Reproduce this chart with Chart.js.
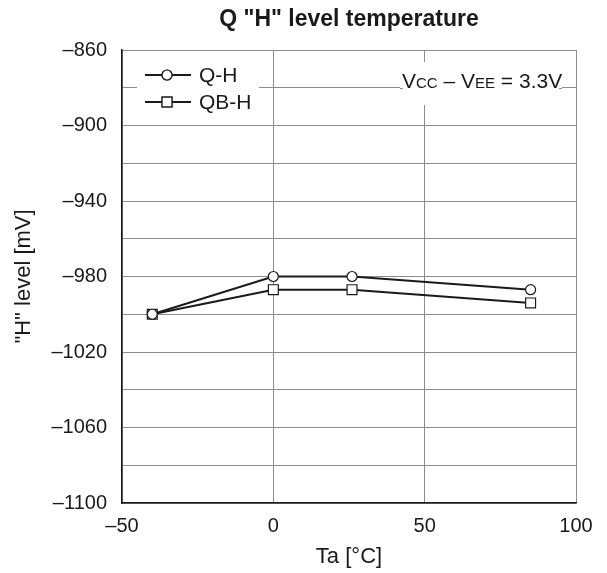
<!DOCTYPE html>
<html lang="en">
<head>
  <meta charset="UTF-8">
  <title>Q "H" level temperature</title>
  <style>
    html, body { margin: 0; padding: 0; background: #fff; }
    .chart-container { width: 607px; height: 573px; }
  </style>
</head>
<body>
  <div class="chart-container">
    <canvas id="levelChart"></canvas>
  </div>

  <script src="https://cdn.jsdelivr.net/npm/chart.js"></script>
  <script>
    const temps = [-40, 0, 26, 85];
    const qH = [-1000, -980, -980, -987];
    const qbH = [-1000, -987, -987, -994];
    const seriesNames = ['Q-H', 'QB-H'];
    const FONT = '"Liberation Sans", Arial, sans-serif';
    const INK = '#1a1a1a';

    const toPoints = (ys) => temps.map((t, i) => ({ x: t, y: ys[i] }));
    const dash = (v) => String(v).replace('-', '\u2013');

    const makeDataset = (label, ys, style, radius) => ({
      label: label,
      data: toPoints(ys),
      borderColor: INK,
      borderWidth: 2,
      pointStyle: style,
      pointRadius: radius,
      pointHoverRadius: radius,
      pointBorderWidth: 1.2,
      pointBackgroundColor: '#fff',
      pointBorderColor: INK,
      tension: 0
    });

    // title, legend box and the Vcc note, drawn on top of the plot
    const extras = {
      id: 'extras',
      afterDraw(chart) {
        const ctx = chart.ctx;
        const area = chart.chartArea;
        ctx.save();

        ctx.fillStyle = INK;
        ctx.font = 'bold 23px ' + FONT;
        ctx.textAlign = 'center';
        ctx.textBaseline = 'middle';
        ctx.fillText('Q "H" level temperature', (area.left + area.right) / 2, 20);

        // legend
        ctx.fillStyle = '#fff';
        ctx.fillRect(137, 60, 122, 56);
        const rows = [{ y: 75, style: 'circle', r: 5 }, { y: 102, style: 'rect', r: 7 }];
        rows.forEach((row, i) => {
          ctx.strokeStyle = INK;
          ctx.lineWidth = 2;
          ctx.beginPath();
          ctx.moveTo(145, row.y);
          ctx.lineTo(191, row.y);
          ctx.stroke();
          ctx.fillStyle = '#fff';
          ctx.lineWidth = 1.2;
          Chart.helpers.drawPoint(ctx, { pointStyle: row.style, radius: row.r, borderWidth: 1.2 }, 167, row.y);
          ctx.fill();
          ctx.stroke();
          ctx.fillStyle = INK;
          ctx.font = '21px ' + FONT;
          ctx.textAlign = 'left';
          ctx.fillText(seriesNames[i], 199, row.y + 1);
        });

        // Vcc - Vee note
        ctx.fillStyle = '#fff';
        ctx.fillRect(400, 62, 162, 43);
        ctx.strokeStyle = '#8c8c8c';
        ctx.lineWidth = 1;
        ctx.beginPath();
        ctx.moveTo(400, 88.5);
        ctx.lineTo(403, 88.5);
        ctx.moveTo(559, 88.5);
        ctx.lineTo(562, 88.5);
        ctx.stroke();
        const parts = [['V', 21], ['CC', 15], [' \u2013 V', 21], ['EE', 15], [' = 3.3V', 21]];
        let x = 402;
        ctx.fillStyle = INK;
        ctx.textAlign = 'left';
        ctx.textBaseline = 'alphabetic';
        parts.forEach(([txt, size]) => {
          ctx.font = size + 'px ' + FONT;
          ctx.fillText(txt, x, 88);
          x += ctx.measureText(txt).width;
        });
        ctx.restore();
      }
    };

    const ctx = document.getElementById('levelChart').getContext('2d');
    new Chart(ctx, {
      type: 'line',
      data: {
        datasets: [
          makeDataset(seriesNames[0], qH, 'circle', 5),
          makeDataset(seriesNames[1], qbH, 'rect', 7)
        ]
      },
      plugins: [extras],
      options: {
        responsive: true,
        maintainAspectRatio: false,
        animation: false,
        layout: { padding: { top: 50, right: 31, left: 0, bottom: 0 } },
        plugins: {
          legend: { display: false },
          title: { display: false },
          tooltip: { enabled: false }
        },
        scales: {
          x: {
            type: 'linear',
            min: -50,
            max: 100,
            ticks: {
              stepSize: 50,
              padding: 11,
              color: INK,
              font: { family: FONT, size: 20 },
              callback: dash
            },
            grid: { color: '#8c8c8c', lineWidth: 1, drawTicks: false },
            border: { color: INK, width: 1.5 },
            title: {
              display: true,
              text: 'Ta [\u00b0C]',
              color: INK,
              font: { family: FONT, size: 22 },
              padding: { top: 0, bottom: 3 }
            },
            afterFit: (s) => { s.height = 70; }
          },
          y: {
            min: -1100,
            max: -860,
            ticks: {
              stepSize: 20,
              padding: 15,
              color: INK,
              font: { family: FONT, size: 20 },
              callback: (v) => ((v + 860) % 40 === 0 ? dash(v) : '')
            },
            grid: { color: '#8c8c8c', lineWidth: 1, drawTicks: false },
            border: { color: INK, width: 1.5 },
            title: {
              display: true,
              text: '"H" level [mV]',
              color: INK,
              font: { family: FONT, size: 22 },
              padding: { top: 11, bottom: 0 }
            },
            afterFit: (s) => { s.width = 122; }
          }
        }
      }
    });
  </script>
</body>
</html>
